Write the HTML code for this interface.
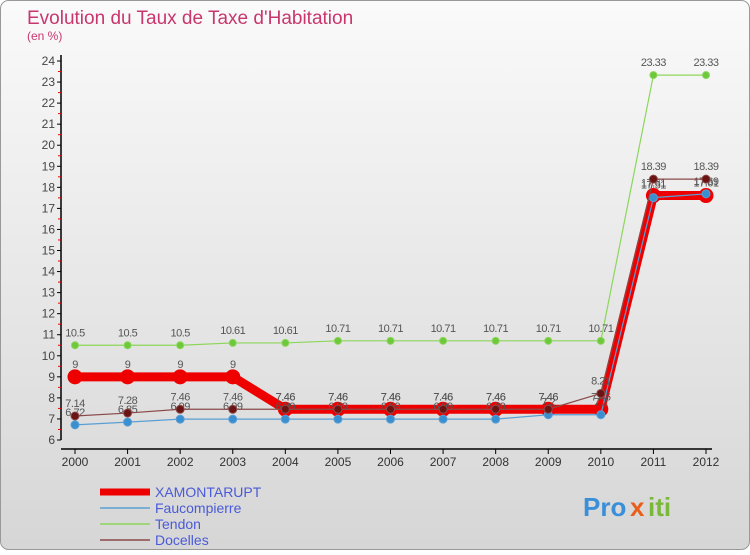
<!DOCTYPE html>
<html><head><meta charset="utf-8"><style>
body{margin:0;width:750px;height:550px;overflow:hidden;font-family:"Liberation Sans",sans-serif}
</style></head><body>
<svg width="750" height="550" xmlns="http://www.w3.org/2000/svg">
<defs><linearGradient id="bg" x1="0" y1="0" x2="0" y2="1"><stop offset="0" stop-color="#fafafa"/><stop offset="1" stop-color="#d6d6d6"/></linearGradient></defs>
<rect x="0.5" y="0.5" width="749" height="549" rx="8" fill="url(#bg)" stroke="#999"/>
<text x="27" y="24" font-size="19" fill="#c8366e">Evolution du Taux de Taxe d'Habitation</text>
<text x="27" y="40" font-size="12" fill="#c8366e">(en %)</text>
<g id="axes"></g><g id="series"></g><g id="legend"></g>
<g font-size="26" font-weight="bold">
<text x="583" y="516" fill="#3a8fd8">Pro</text><text x="630" y="516" fill="#e8601c">x</text><text x="648" y="516" fill="#7ab83a">iti</text></g>
</svg>
<script>
const years=[2000,2001,2002,2003,2004,2005,2006,2007,2008,2009,2010,2011,2012];
const yTicks=[6,7,8,9,10,11,12,13,14,15,16,17,18,19,20,21,22,23,24];
const xamontarupt=[9,9,9,9,7.46,7.46,7.46,7.46,7.46,7.46,7.46,17.61,17.61];
const faucompierre=[6.72,6.85,6.99,6.99,6.99,6.99,6.99,6.99,6.99,7.2,7.2,17.51,17.69];
const tendon=[10.5,10.5,10.5,10.61,10.61,10.71,10.71,10.71,10.71,10.71,10.71,23.33,23.33];
const docelles=[7.14,7.28,7.46,7.46,7.46,7.46,7.46,7.46,7.46,7.46,8.21,18.39,18.39];
const NS="http://www.w3.org/2000/svg";
const X=i=>75+i*(631/12), Y=v=>440-(v-6)*(379/18);
function mk(t,a,p){const e=document.createElementNS(NS,t);for(const k in a)e.setAttribute(k,a[k]);p.appendChild(e);return e;}
const ax=document.getElementById('axes');
let l=mk('line',{x1:61,y1:55,x2:61,y2:440,stroke:'#000','stroke-width':1.5},ax);


l=mk('line',{x1:61,y1:449,x2:712,y2:449,stroke:'#000','stroke-width':1.5},ax);


yTicks.forEach(v=>{
 mk('line',{x1:57,y1:Y(v),x2:61,y2:Y(v),stroke:'#000'},ax);
 if(v<24)mk('line',{x1:58,y1:Y(v+0.5),x2:61,y2:Y(v+0.5),stroke:'#e00'},ax);
 const t=mk('text',{x:55,y:Y(v)+4,'font-size':12,fill:'#444','text-anchor':'end'},ax);t.textContent=v;
 
 
});
years.forEach((yr,i)=>{
 mk('line',{x1:X(i),y1:449,x2:X(i),y2:454,stroke:'#000'},ax);
 const t=mk('text',{x:X(i),y:466,'font-size':12,fill:'#333','text-anchor':'middle'},ax);t.textContent=yr;
 
 
});
const sg=document.getElementById('series');
function draw(name,vals,color,w,r,fill){
 const g=mk('g',{},sg);
 
 
 mk('polyline',{points:vals.map((v,i)=>X(i)+','+Y(v)).join(' '),fill:'none',stroke:color,'stroke-width':w,'stroke-linejoin':'round'},g);
 vals.forEach((v,i)=>{
  const c=mk('circle',{cx:X(i),cy:Y(v),r:r,fill:fill,stroke:color,'stroke-width':1},g);
  
  
  const t=mk('text',{x:X(i),y:Y(v)-9,'font-size':11,fill:'#555','text-anchor':'middle','letter-spacing':'-0.5'},g);t.textContent=v;
 });
}
draw('tendon',tendon,'#8cd65a',1.2,3.5,'#6ec83c');
draw('xamontarupt',xamontarupt,'#e00',9,7,'#e00');
draw('faucompierre',faucompierre,'#5a9fd4',1.2,4,'#3a8fd0');
draw('docelles',docelles,'#8a4a4a',1.2,4,'#6a1414');
const lg=document.getElementById('legend');
const items=[['XAMONTARUPT','#e00',7],['Faucompierre','#5a9fd4',1.5],['Tendon','#8cd65a',1.5],['Docelles','#8a4a4a',1.5]];
items.forEach((it,k)=>{
 const y=492+k*16;
 const g=mk('g',{},lg);
 
 
 mk('line',{x1:100,y1:y,x2:150,y2:y,stroke:it[1],'stroke-width':it[2]},g);
 const t=mk('text',{x:155,y:y+5,'font-size':14,fill:'#4a5ad8'},g);t.textContent=it[0];
});
</script>
</body></html>
